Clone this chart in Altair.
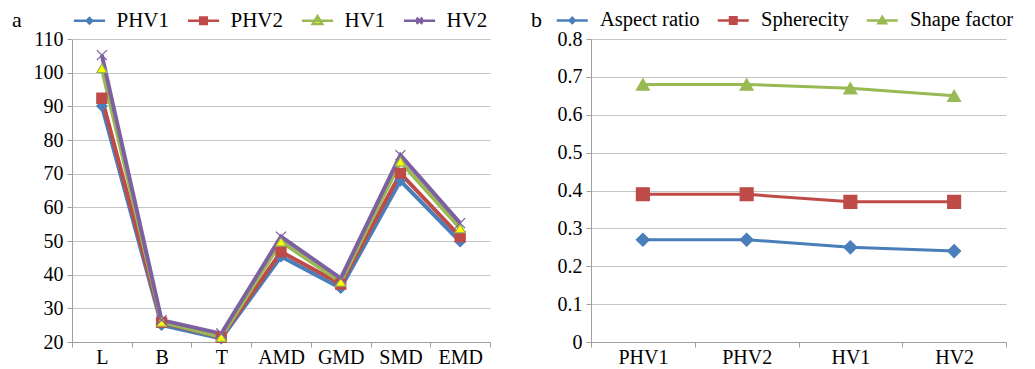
import altair as alt
import pandas as pd

FONT = "Liberation Serif"

# ---------------- panel a data ----------------
cats_a = ["L", "B", "T", "AMD", "GMD", "SMD", "EMD"]
series_a = ["PHV1", "PHV2", "HV1", "HV2"]
phv1 = [90.1, 25.0, 21.0, 45.4, 36.0, 67.9, 49.8]
phv2 = [92.4, 25.8, 21.4, 46.8, 37.2, 70.1, 51.3]
hv1 = [101.3, 26.0, 21.5, 49.8, 37.9, 73.6, 53.8]
hv2 = [105.2, 26.5, 22.5, 51.3, 38.9, 75.5, 55.3]
yticks_a = [20, 30, 40, 50, 60, 70, 80, 90, 100, 110]

# ---------------- panel b data ----------------
cats_b = ["PHV1", "PHV2", "HV1", "HV2"]
series_b = ["Aspect ratio", "Spherecity", "Shape factor"]
aspect_ratio = [0.27, 0.27, 0.25, 0.24]
sphericity = [0.39, 0.39, 0.37, 0.37]
shape_factor = [0.68, 0.68, 0.67, 0.65]
yticks_b = [0, 0.1, 0.2, 0.3, 0.4, 0.5, 0.6, 0.7, 0.8]

BLUE, RED, GREEN, PURPLE, YELLOW = "#4a7ebb", "#be4b48", "#98b954", "#7d60a0", "#ffff00"
GRID = "#c4c4c4"
AXIS = "#a0a0a0"


def long_df(cats, series, values):
    rows = []
    for s, vals in zip(series, values):
        for i, (c, v) in enumerate(zip(cats, vals)):
            rows.append({"cat": c, "series": s, "val": v, "idx": i})
    return pd.DataFrame(rows)


df_a = long_df(cats_a, series_a, [phv1, phv2, hv1, hv2])
df_b = long_df(cats_b, series_b, [aspect_ratio, sphericity, shape_factor])


def panel(df, cats, series, ydom, yvals, yfmt, width, height,
          stroke_range, fill_range, marker_shapes, marker_size, line_w,
          legend_paths, legend_size, letter, title_pad, label_off, col_pad,
          legend_font):
    base = alt.Chart(df)
    x = alt.X("cat:N", sort=cats,
              scale=alt.Scale(type="band", domain=cats, paddingInner=0, paddingOuter=0),
              axis=alt.Axis(title=None, labelAngle=0, tickBand="extent", grid=False,
                            tickSize=5, tickColor=AXIS, domainColor=AXIS,
                            labelFont=FONT, labelFontSize=20, labelColor="black",
                            labelPadding=0))
    y = alt.Y("val:Q",
              scale=alt.Scale(domain=ydom, nice=False, zero=False),
              axis=alt.Axis(title=None, values=yvals, format=yfmt, grid=True,
                            gridColor=GRID, tickSize=5, tickColor=AXIS,
                            domainColor=AXIS, labelFont=FONT, labelFontSize=20,
                            labelColor="black", labelPadding=4))
    lines = base.mark_line(strokeWidth=line_w).encode(
        x=x, y=y,
        color=alt.Color("series:N", sort=series,
                        scale=alt.Scale(domain=series, range=stroke_range), legend=None),
        order=alt.Order("idx:Q"),
    )
    points = base.mark_point(filled=True, size=marker_size, opacity=1, strokeWidth=1.3).encode(
        x=x, y=y,
        shape=alt.Shape("series:N", sort=series,
                        scale=alt.Scale(domain=series, range=marker_shapes), legend=None),
        fill=alt.Fill("series:N", sort=series,
                      scale=alt.Scale(domain=series, range=fill_range), legend=None),
        stroke=alt.Stroke("series:N", sort=series,
                          scale=alt.Scale(domain=series, range=stroke_range), legend=None),
    )
    leg = alt.Legend(orient="none", legendX=-60, legendY=-29, direction="horizontal",
                     columns=len(series), title=letter, titleOrient="left",
                     titleFont=FONT, titleFontSize=22, titleFontWeight="normal",
                     titleColor="black", titlePadding=title_pad,
                     labelFont=FONT, labelFontSize=legend_font, labelColor="black",
                     symbolSize=legend_size, symbolStrokeWidth=2.5,
                     labelOffset=label_off, columnPadding=col_pad, padding=0,
                     rowPadding=0, labelLimit=300)
    legend_layer = base.transform_filter("false").mark_point(
        filled=True, size=legend_size, opacity=1, strokeWidth=2.5).encode(
        x=x, y=y,
        shape=alt.Shape("series:N", sort=series,
                        scale=alt.Scale(domain=series, range=legend_paths), legend=leg),
        fill=alt.Fill("series:N", sort=series,
                      scale=alt.Scale(domain=series, range=fill_range), legend=leg),
        stroke=alt.Stroke("series:N", sort=series,
                          scale=alt.Scale(domain=series, range=stroke_range), legend=leg),
    )
    return alt.layer(lines, points, legend_layer).properties(
        width=width, height=height
    ).resolve_scale(color="independent", shape="independent",
                    fill="independent", stroke="independent")


X_PATH = "M-1,-1L1,1M-1,1L1,-1"

legend_paths_a = [
    "M-2.6,0L2.6,0M0,-0.45L0.45,0L0,0.45L-0.45,0Z",
    "M-2.6,0L2.6,0M-0.55,-0.55L0.55,-0.55L0.55,0.55L-0.55,0.55Z",
    "M-2.6,0L2.6,0M0,-0.75L0.8,0.55L-0.8,0.55Z",
    "M-2.6,0L2.6,0M-0.5,-0.5L0.5,0.5M-0.5,0.5L0.5,-0.5",
]
legend_paths_b = [
    "M-3.1,0L3.1,0M0,-0.5L0.5,0L0,0.5L-0.5,0Z",
    "M-3.1,0L3.1,0M-0.65,-0.65L0.65,-0.65L0.65,0.65L-0.65,0.65Z",
    "M-3.1,0L3.1,0M0,-0.7L0.75,0.55L-0.75,0.55Z",
]

left = panel(df_a, cats_a, series_a, [20, 110], yticks_a, "d", 418, 303,
             [BLUE, RED, GREEN, PURPLE], [BLUE, RED, YELLOW, PURPLE],
             ["diamond", "square", "triangle-up", X_PATH], 100, 4,
             legend_paths_a, 144, "a", 57, 16.5, 12, 21)

right = panel(df_b, cats_b, series_b, [0, 0.8], yticks_b, ".1~f", 415, 303,
              [BLUE, RED, GREEN], [BLUE, RED, GREEN],
              ["diamond", "square", "triangle-up"], 165, 3,
              legend_paths_b, 100, "b", 20, 17.5, 12, 20.5)

chart = alt.hconcat(left, right, spacing=40).resolve_scale(
    x="independent", y="independent", color="independent",
    shape="independent", fill="independent", stroke="independent"
).configure_view(strokeWidth=0).configure_axis(
    labelFont=FONT, labelColor="black"
).configure_legend(
    labelFont=FONT, titleFont=FONT
).properties(
    padding={"left": 4, "top": 2, "right": 0, "bottom": 0},
    background="white",
)

chart.save("out.html", embed_options={"renderer": "svg", "actions": False})
